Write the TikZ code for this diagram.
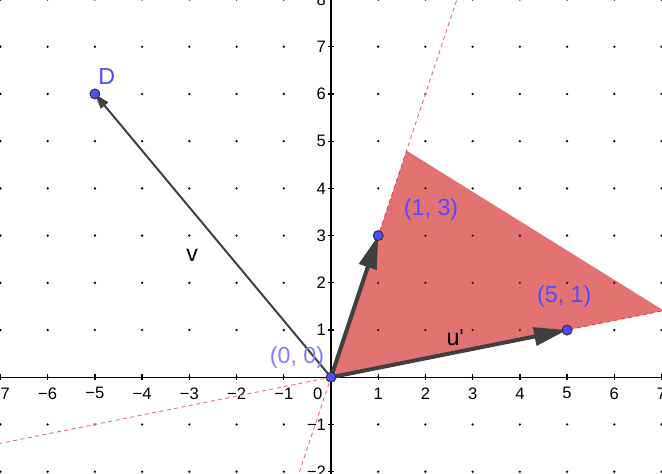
\documentclass[tikz,border=0pt]{standalone}
\usepackage{fontspec}
\setmainfont{Liberation Sans}
\usetikzlibrary{arrows.meta}
\definecolor{ptblue}{RGB}{77,77,255}
\definecolor{lightblue}{RGB}{128,128,255}
\definecolor{vecgray}{RGB}{64,64,64}
\definecolor{polyred}{RGB}{204,0,0}
\definecolor{dashred}{RGB}{235,105,105}
\begin{document}
\begin{tikzpicture}[x=1cm,y=1cm,
  gdot/.style={fill=black},
  axis/.style={line width=0.8pt,black},
  ticklbl/.style={font=\fontsize{10}{12}\selectfont,inner sep=0pt},
  dashline/.style={dashred,line width=0.5pt,dash pattern=on 2.5pt off 2pt},
  poly/.style={fill=polyred,fill opacity=0.55},
  bigvec/.style={vecgray,line width=2.4pt,-{Triangle[length=0.7cm,width=0.38cm]}},
  thinvec/.style={vecgray,line width=1.2pt,-{Triangle[length=0.32cm,width=0.2cm]}},
  pt/.style={circle,fill=ptblue,draw=black!80,line width=0.6pt,inner sep=0pt,minimum size=0.21cm},
  lbl/.style={font=\fontsize{14}{16}\selectfont,inner sep=0pt}]
\useasboundingbox (-7.01,-2.03) rectangle (7.01,7.99);
\clip (-7.01,-2.03) rectangle (7.01,7.99);
\fill[white] (-7.01,-2.03) rectangle (7.01,7.99);
% grid dots
\foreach \x in {-7,...,7}
  \foreach \y in {-2,...,8}
    \fill[gdot] (\x,\y) circle (0.027);
% axes
\draw[axis] (-7.1,0) -- (7.1,0);
\draw[axis] (0,-2.1) -- (0,8.1);
\foreach \x in {-7,...,-1,1,2,...,7} {
  \draw[axis] (\x,-0.06) -- (\x,0.06);
  \node[ticklbl] at (\x,-0.34) {\ifnum\x<0 −\number\numexpr-\x\relax\else\x\fi};
}
\foreach \y in {-2,-1,1,2,...,8} {
  \draw[axis] (-0.06,\y) -- (0.06,\y);
  \node[ticklbl,anchor=east] at (-0.1,\y) {\ifnum\y<0 −\number\numexpr-\y\relax\else\y\fi};
}
\node[ticklbl] at (-0.28,-0.34) {0};
% coordinates
\coordinate (O) at (0,0);
\coordinate (A) at (1,3);
\coordinate (B) at (5,1);
\coordinate (D) at (-5,6);
\coordinate (L1a) at (-0.72,-2.16);
\coordinate (L1b) at (2.72,8.16);
\coordinate (L2a) at (-7.2,-1.44);
\coordinate (L2b) at (7.2,1.44);
\coordinate (P1) at (1.6,4.8);
\coordinate (P2) at (7.05,1.41);
% dashed lines
\draw[dashline] (L1a) -- (L1b);
\draw[dashline] (L2a) -- (L2b);
% polygon
\fill[poly] (O) -- (P1) -- (P2) -- cycle;
% vectors
\draw[thinvec] (O) -- (D);
\draw[bigvec] (O) -- (A);
\draw[bigvec] (O) -- (B);
% points
\node[pt] (pO) at (O) {};
\node[pt] (pA) at (A) {};
\node[pt] (pB) at (B) {};
\node[pt] (pD) at (D) {};
% labels
\node[lbl,text=ptblue] (lD) at (-4.75,6.38) {D};
\node[lbl] (lv) at (-2.94,2.58) {v};
\node[lbl,text=ptblue] (lA) at (2.12,3.56) {(1, 3)};
\node[lbl,text=ptblue] (lB) at (4.94,1.72) {(5, 1)};
\node[lbl,text=lightblue] (lO) at (-0.72,0.42) {(0, 0)};
\node[lbl] (lu) at (2.63,0.83) {u\textquotesingle};
\end{tikzpicture}
\end{document}
